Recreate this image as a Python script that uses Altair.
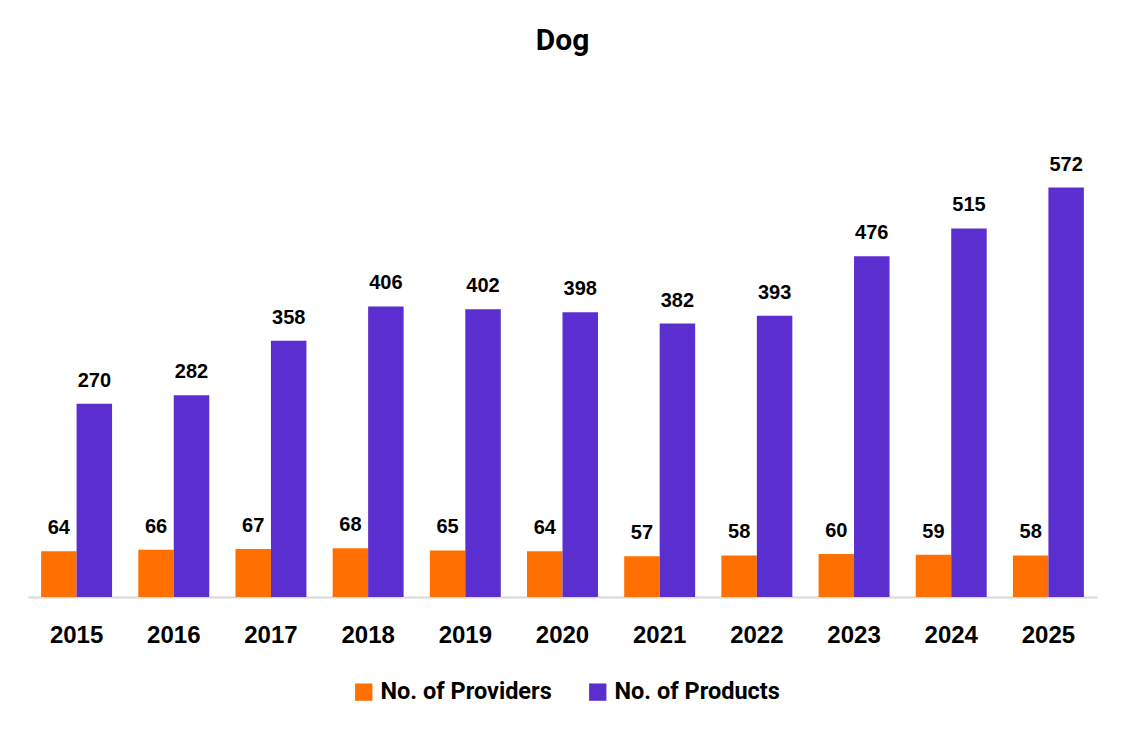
import altair as alt
import pandas as pd

years = ["2015", "2016", "2017", "2018", "2019", "2020", "2021", "2022", "2023", "2024", "2025"]
providers = [64, 66, 67, 68, 65, 64, 57, 58, 60, 59, 58]
products = [270, 282, 358, 406, 402, 398, 382, 393, 476, 515, 572]
series_names = ["No. of Providers", "No. of Products"]
colors = ["#FF7000", "#5A2ECF"]

rows = []
for y, a, b in zip(years, providers, products):
    rows.append({"year": y, "series": series_names[0], "value": a})
    rows.append({"year": y, "series": series_names[1], "value": b})
df = pd.DataFrame(rows)

x = alt.X("year:N", sort=years, title=None,
          scale=alt.Scale(paddingInner=0.27, paddingOuter=0.135),
          axis=alt.Axis(labelAngle=0, labelFont="Liberation Sans", labelFontSize=24,
                        labelFontWeight="bold", labelColor="#000000", labelPadding=26,
                        ticks=False, domainColor="#D9D9D9", domainWidth=2, grid=False))
xo = alt.XOffset("series:N", sort=series_names)
y = alt.Y("value:Q", title=None, scale=alt.Scale(domain=[0, 700], nice=False), axis=None)

base = alt.Chart(df).encode(x=x, xOffset=xo)

bars = base.mark_bar().encode(
    y=y,
    color=alt.Color("series:N", sort=series_names,
                    scale=alt.Scale(domain=series_names, range=colors),
                    legend=alt.Legend(title=None, orient="none", legendX=324, legendY=584,
                                      direction="horizontal", symbolType="square",
                                      symbolSize=300, symbolStrokeWidth=0,
                                      labelFont="Roboto", labelFontSize=23.5,
                                      labelFontWeight="bold", labelColor="#000000",
                                      labelLimit=500, columnPadding=34, labelOffset=5)),
)

labels = base.mark_text(dy=-13, baseline="bottom", font="Liberation Sans",
                        fontSize=20, fontWeight="bold", color="#000000").encode(
    y=y, text=alt.Text("value:Q"))

chart = alt.layer(bars, labels).properties(
    width=1069, height=501,
    background="#FFFFFF",
    autosize=alt.AutoSizeParams(type="none"),
    padding={"left": 20, "top": 88, "right": 17, "bottom": 127},
    title=alt.TitleParams("Dog", font="Roboto", fontSize=30, fontWeight="bold",
                          color="#000000", anchor="middle", offset=40),
).configure_view(strokeWidth=0, stroke="transparent")

chart.save("out.html", embed_options={"renderer": "svg", "actions": False})
